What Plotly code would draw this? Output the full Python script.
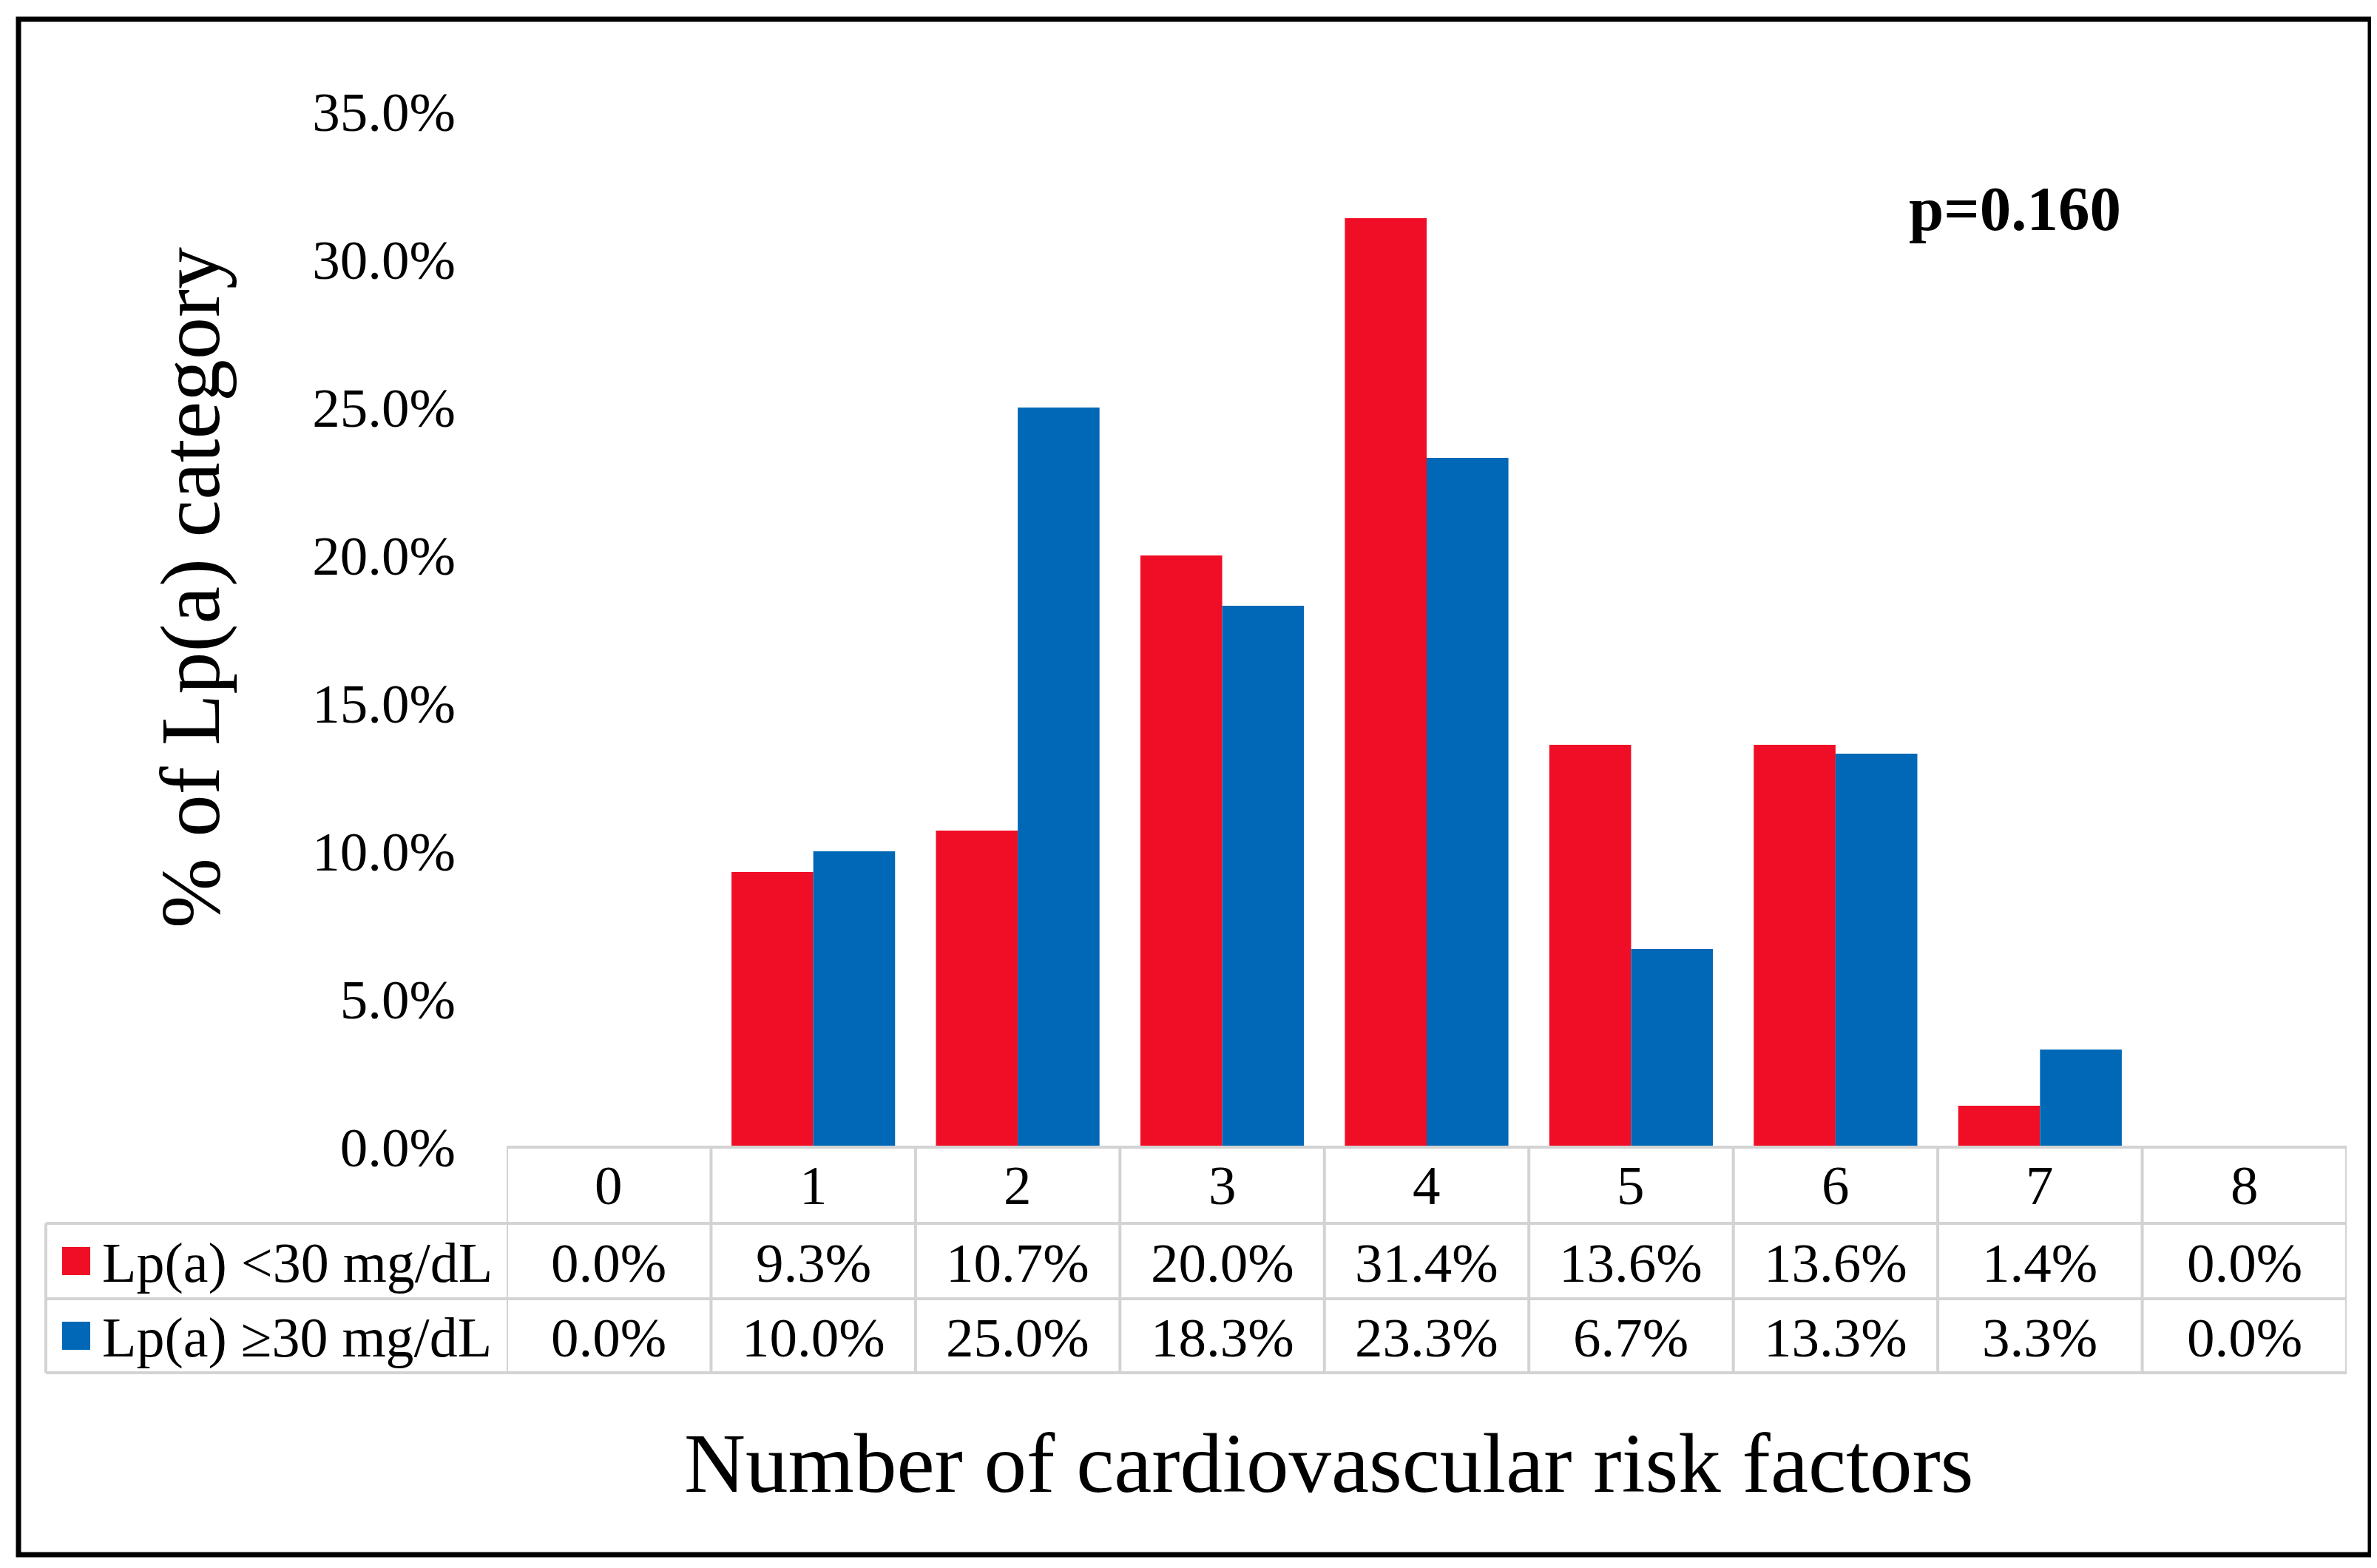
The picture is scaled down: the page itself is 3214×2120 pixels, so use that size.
import plotly.graph_objects as go

# ---- data ----
categories = ["0", "1", "2", "3", "4", "5", "6", "7", "8"]
series_names = ["Lp(a) <30 mg/dL", "Lp(a) \u226530 mg/dL"]
low_lpa = [0.0, 9.3, 10.7, 20.0, 31.4, 13.6, 13.6, 1.4, 0.0]
high_lpa = [0.0, 10.0, 25.0, 18.3, 23.3, 6.7, 13.3, 3.3, 0.0]
y_ticks = [0, 5, 10, 15, 20, 25, 30, 35]
y_tick_text = [f"{t:.1f}%" for t in y_ticks]
p_text = "p=0.160"
x_title = "Number of cardiovascular risk factors"
y_title = "% of Lp(a) category"

colors = ["#EF0E25", "#0068B6"]
FONT = "Liberation Serif, Times New Roman, serif"

# ---- layout geometry (pixels) ----
W, H = 3214, 2120
L, R, T, B = 677, 3165, 143, 1543
PW, PH = R - L, B - T


def px(xp):
    return (xp - L) / PW


def py(yp):
    return (B - yp) / PH


row_lines = [B, 1646, 1748, 1848]
legend_left = 54
grid_col = "#d3d3d3"

fig = go.Figure()
for name, vals, col in zip(series_names, [low_lpa, high_lpa], colors):
    fig.add_trace(go.Bar(x=categories, y=vals, name=name, marker=dict(color=col, line=dict(width=0)),
                         showlegend=False))

shapes = []
# horizontal table lines
shapes.append(dict(type="line", xref="x", yref="paper", x0=-0.5, x1=len(categories) - 0.5,
                   y0=py(row_lines[0]), y1=py(row_lines[0]), line=dict(color=grid_col, width=4)))
for yl in row_lines[1:]:
    shapes.append(dict(type="line", xref="paper", yref="paper", x0=px(legend_left), x1=1,
                       y0=py(yl), y1=py(yl), line=dict(color=grid_col, width=4)))
# vertical lines
for i in range(len(categories) + 1):
    shapes.append(dict(type="line", xref="x", yref="paper", x0=i - 0.5, x1=i - 0.5,
                       y0=py(row_lines[0]), y1=py(row_lines[3]), line=dict(color=grid_col, width=4)))
shapes.append(dict(type="line", xref="paper", yref="paper", x0=px(legend_left), x1=px(legend_left),
                   y0=py(row_lines[1]), y1=py(row_lines[3]), line=dict(color=grid_col, width=4)))

annotations = []
hdr_y = py((row_lines[0] + row_lines[1]) / 2)
row_ys = [py((row_lines[1] + row_lines[2]) / 2 + 2), py((row_lines[2] + row_lines[3]) / 2 + 2)]
for c in categories:
    annotations.append(dict(x=c, y=hdr_y, xref="x", yref="paper", text=c, showarrow=False,
                            font=dict(family=FONT, size=75, color="black"), xanchor="center", yanchor="middle"))
for vals, yy in zip([low_lpa, high_lpa], row_ys):
    for c, v in zip(categories, vals):
        annotations.append(dict(x=c, y=yy, xref="x", yref="paper", text=f"{v:.1f}%", showarrow=False,
                                font=dict(family=FONT, size=75, color="black"), xanchor="center", yanchor="middle"))

# legend entries in table
sq = 38
for name, col, yy_px in zip(series_names, colors,
                            [(row_lines[1] + row_lines[2]) / 2, (row_lines[2] + row_lines[3]) / 2]):
    shapes.append(dict(type="rect", xref="paper", yref="paper", x0=px(76), x1=px(76 + sq),
                       y0=py(yy_px - sq / 2), y1=py(yy_px + sq / 2), fillcolor=col, line=dict(width=0)))
    annotations.append(dict(x=px(128), y=py(yy_px + 2), xref="paper", yref="paper", text=name, showarrow=False,
                            font=dict(family=FONT, size=76, color="black"), xanchor="left", yanchor="middle"))

# titles and p-value
annotations.append(dict(x=px(1788), y=py(1970), xref="paper", yref="paper", text=x_title, showarrow=False,
                        font=dict(family=FONT, size=115, color="black"), xanchor="center", yanchor="middle"))
annotations.append(dict(x=px(249), y=py(787), xref="paper", yref="paper", text=y_title, showarrow=False,
                        textangle=-90, font=dict(family=FONT, size=114, color="black"),
                        xanchor="center", yanchor="middle"))
annotations.append(dict(x=px(2716), y=py(274), xref="paper", yref="paper", text="<b>" + p_text + "</b>",
                        showarrow=False, font=dict(family=FONT, size=85, color="black"),
                        xanchor="center", yanchor="middle"))

# outer border
shapes.append(dict(type="rect", xref="paper", yref="paper", x0=px(17), x1=px(3197), y0=py(2094), y1=py(18),
                   line=dict(color="black", width=7), fillcolor="rgba(0,0,0,0)", layer="above"))

fig.update_layout(
    width=W, height=H, autosize=False,
    margin=dict(l=L, r=W - R, t=T, b=H - B, pad=0),
    paper_bgcolor="white", plot_bgcolor="white",
    barmode="group", bargap=0.2, bargroupgap=0,
    shapes=shapes, annotations=annotations,
    font=dict(family=FONT, color="black"),
    xaxis=dict(type="category", range=[-0.5, len(categories) - 0.5], showticklabels=False,
               showgrid=False, zeroline=False, showline=False, ticks=""),
    yaxis=dict(range=[0, 35], tickmode="array", tickvals=y_ticks, ticktext=y_tick_text,
               tickfont=dict(family=FONT, size=75, color="black"), showgrid=False, zeroline=False,
               showline=False, ticks="", ticklabelstandoff=68),
)

fig.write_html("out.html")
